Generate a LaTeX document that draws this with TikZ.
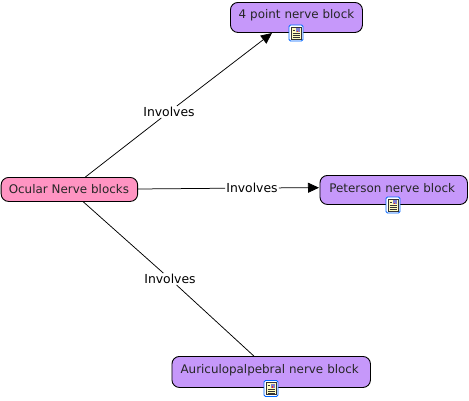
\documentclass[tikz,border=0pt]{standalone}
\usepackage{fontspec}
\setmainfont{DejaVu Sans}
\usetikzlibrary{arrows.meta}
\definecolor{concept}{HTML}{C698FA}
\definecolor{root}{HTML}{FF94C2}
\tikzset{
  x=1pt,y=-1pt,
  concept box/.style={draw=black,line width=0.9pt,rounded corners=7.5pt,anchor=north west,inner sep=0pt,align=center,font=\fontsize{11.9}{14}\selectfont,text=black!85},
  link label/.style={fill=white,inner xsep=1pt,inner ysep=1pt,font=\fontsize{12.4}{14}\selectfont},
  link/.style={draw=black,line width=0.75pt},
  tip/.style={-{Triangle[length=11pt,width=10pt]}},
  docicon/.pic={
    \draw[draw=blue!60!cyan,fill=white,line width=0.9pt,rounded corners=1.5pt] (-7,-8) rectangle (7,8);
    \fill[fill=yellow!25] (-5,-6) rectangle (5,6);
    \draw[black!80,line width=0.6pt] (-5,-6) rectangle (5,6);
    \fill[fill=blue!45!gray!70] (0,-5) rectangle (4,-1);
    \fill[fill=red!60!orange] (0.5,-2.5) rectangle (2,-1);
    \draw[black!80,line width=0.6pt] (-3.5,-3) -- (-0.8,-3) (-3.5,0.5) -- (3.5,0.5) (-3.5,2.5) -- (3.5,2.5) (-3.5,4.5) -- (3.5,4.5);
  }
}
\begin{document}
\begin{tikzpicture}
\useasboundingbox (0,0) rectangle (469,400);
\fill[white] (0,0) rectangle (469,400);
\node[concept box,fill=root,text width=136.5pt,text height=16pt,text depth=8pt] (oc) at (0.7,177) {Ocular Nerve blocks\hspace*{1pt}};
\node[concept box,fill=concept,text width=132pt,text height=16pt,text depth=14pt] (fp) at (230,2) {4 point nerve block};
\node[concept box,fill=concept,text width=147.5pt,text height=17pt,text depth=12pt] (pe) at (319.5,175) {Peterson nerve block\hspace*{3pt}};
\node[concept box,fill=concept,text width=198.5pt,text height=17pt,text depth=14pt] (au) at (171.5,356) {Auriculopalpebral nerve block\hspace*{3pt}};
\node[link label] (l1) at (169,112) {Involves};
\node[link label] (l2) at (252,188) {Involves};
\node[link label] (l3) at (170,279) {Involves};
\coordinate (t1) at (272,33);
\coordinate (s2) at (137.5,189);
\coordinate (t2) at (319,187.7);
\draw[link] (oc) -- (l1);
\draw[link,tip] (l1) -- (t1);
\draw[link] (s2) -- (l2);
\draw[link,tip] (l2) -- (t2);
\draw[link] (oc) -- (l3);
\draw[link] (l3) -- (au);
\pic at (296,33) {docicon};
\pic at (393,205) {docicon};
\pic at (271,388.5) {docicon};
\end{tikzpicture}
\end{document}
